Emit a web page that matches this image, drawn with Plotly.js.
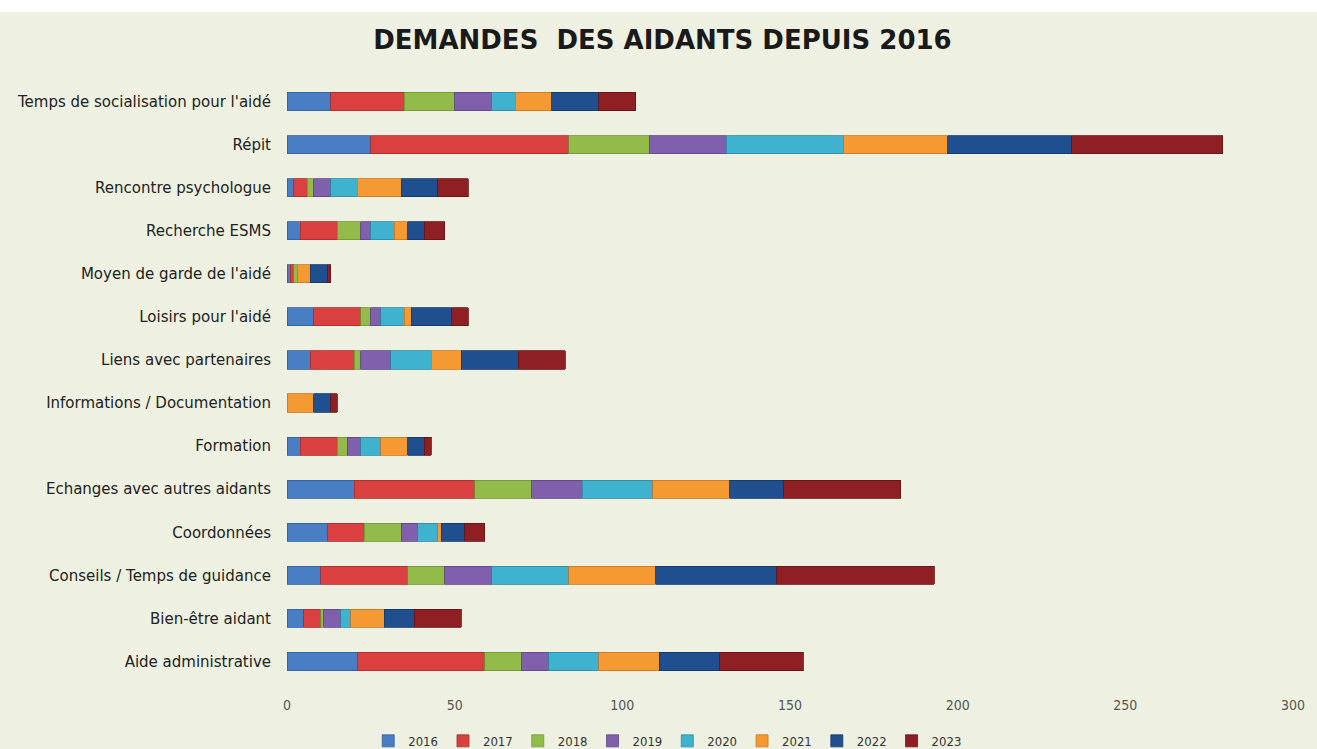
<!DOCTYPE html>
<html>
<head>
<meta charset="utf-8">
<script src="https://cdn.plot.ly/plotly-3.0.1.min.js"></script>
<style>
  html, body { margin: 0; padding: 0; background: #ffffff; }
  #chart { position: absolute; top: 12px; left: 0; width: 1317px; height: 737px; }
</style>
</head>
<body>
<div id="chart"></div>
<script>
// categories, bottom to top (as on the chart)
const categories = [
  "Aide administrative",
  "Bien-être aidant",
  "Conseils / Temps de guidance",
  "Coordonnées",
  "Echanges avec autres aidants",
  "Formation",
  "Informations / Documentation",
  "Liens avec partenaires",
  "Loisirs pour l'aidé",
  "Moyen de garde de l'aidé",
  "Recherche ESMS",
  "Rencontre psychologue",
  "Répit",
  "Temps de socialisation pour l'aidé"
];

const years = ["2016", "2017", "2018", "2019", "2020", "2021", "2022", "2023"];

// one array per year, same order as categories
const y2016 = [21, 5, 10, 12, 20, 4, 0, 7, 8, 1, 4, 2, 25, 13];
const y2017 = [38, 5, 26, 11, 36, 11, 0, 13, 14, 1, 11, 4, 59, 22];
const y2018 = [11, 1, 11, 11, 17, 3, 0, 2, 3, 1, 7, 2, 24, 15];
const y2019 = [8, 5, 14, 5, 15, 4, 0, 9, 3, 0, 3, 5, 23, 11];
const y2020 = [15, 3, 23, 6, 21, 6, 0, 12, 7, 0, 7, 8, 35, 7];
const y2021 = [18, 10, 26, 1, 23, 8, 8, 9, 2, 4, 4, 13, 31, 11];
const y2022 = [18, 9, 36, 7, 16, 5, 5, 17, 12, 5, 5, 11, 37, 14];
const y2023 = [25, 14, 47, 6, 35, 2, 2, 14, 5, 1, 6, 9, 45, 11];

const series = [y2016, y2017, y2018, y2019, y2020, y2021, y2022, y2023];
const colors = ["#4a7ec4", "#d9403f", "#93bb4a", "#8060ac", "#3fb2cf", "#f59a32", "#1f4f8f", "#8e1f22"];
const edgeColors = ["#2f5f9e", "#a52d2c", "#6f9436", "#5d4385", "#2a8aa3", "#c9761e", "#123765", "#621416"];

const traces = series.map((vals, i) => ({
  type: "bar",
  orientation: "h",
  name: years[i],
  y: categories,
  x: vals,
  marker: { color: colors[i], line: { color: edgeColors[i], width: 0.8 } },
  hovertemplate: "%{y}<br>" + years[i] + ": %{x}<extra></extra>"
}));

const layout = {
  barmode: "stack",
  bargap: 0.58,
  paper_bgcolor: "#eef1e1",
  plot_bgcolor: "#eef1e1",
  margin: { l: 287, r: 24, t: 68, b: 66, autoexpand: false },
  title: {
    text: "<b>DEMANDES  DES AIDANTS DEPUIS 2016</b>",
    x: 0.503,
    xref: "container",
    xanchor: "center",
    y: 0.962,
    yref: "container",
    yanchor: "middle",
    font: { family: "DejaVu Sans", size: 26, color: "#1a1a1a" }
  },
  font: { family: "DejaVu Sans", color: "#222" },
  xaxis: {
    range: [0, 300],
    dtick: 50,
    showgrid: false,
    zeroline: false,
    showline: false,
    ticks: "",
    ticklabelstandoff: 12,
    tickfont: { family: "DejaVu Sans Condensed", size: 14, color: "#555" }
  },
  yaxis: {
    type: "category",
    categoryorder: "array",
    categoryarray: categories,
    showgrid: false,
    zeroline: false,
    showline: false,
    ticks: "",
    ticklabelstandoff: 15,
    tickfont: { family: "DejaVu Sans", size: 15, color: "#222" }
  },
  legend: {
    orientation: "h",
    x: 0.507,
    xref: "container",
    xanchor: "center",
    y: 0.011,
    yref: "container",
    yanchor: "middle",
    traceorder: "normal",
    font: { family: "DejaVu Sans Condensed", size: 13, color: "#333" },
    itemwidth: 30,
    bgcolor: "rgba(0,0,0,0)"
  },
  showlegend: true
};

Plotly.newPlot("chart", traces, layout, { displayModeBar: false });
</script>
</body>
</html>
